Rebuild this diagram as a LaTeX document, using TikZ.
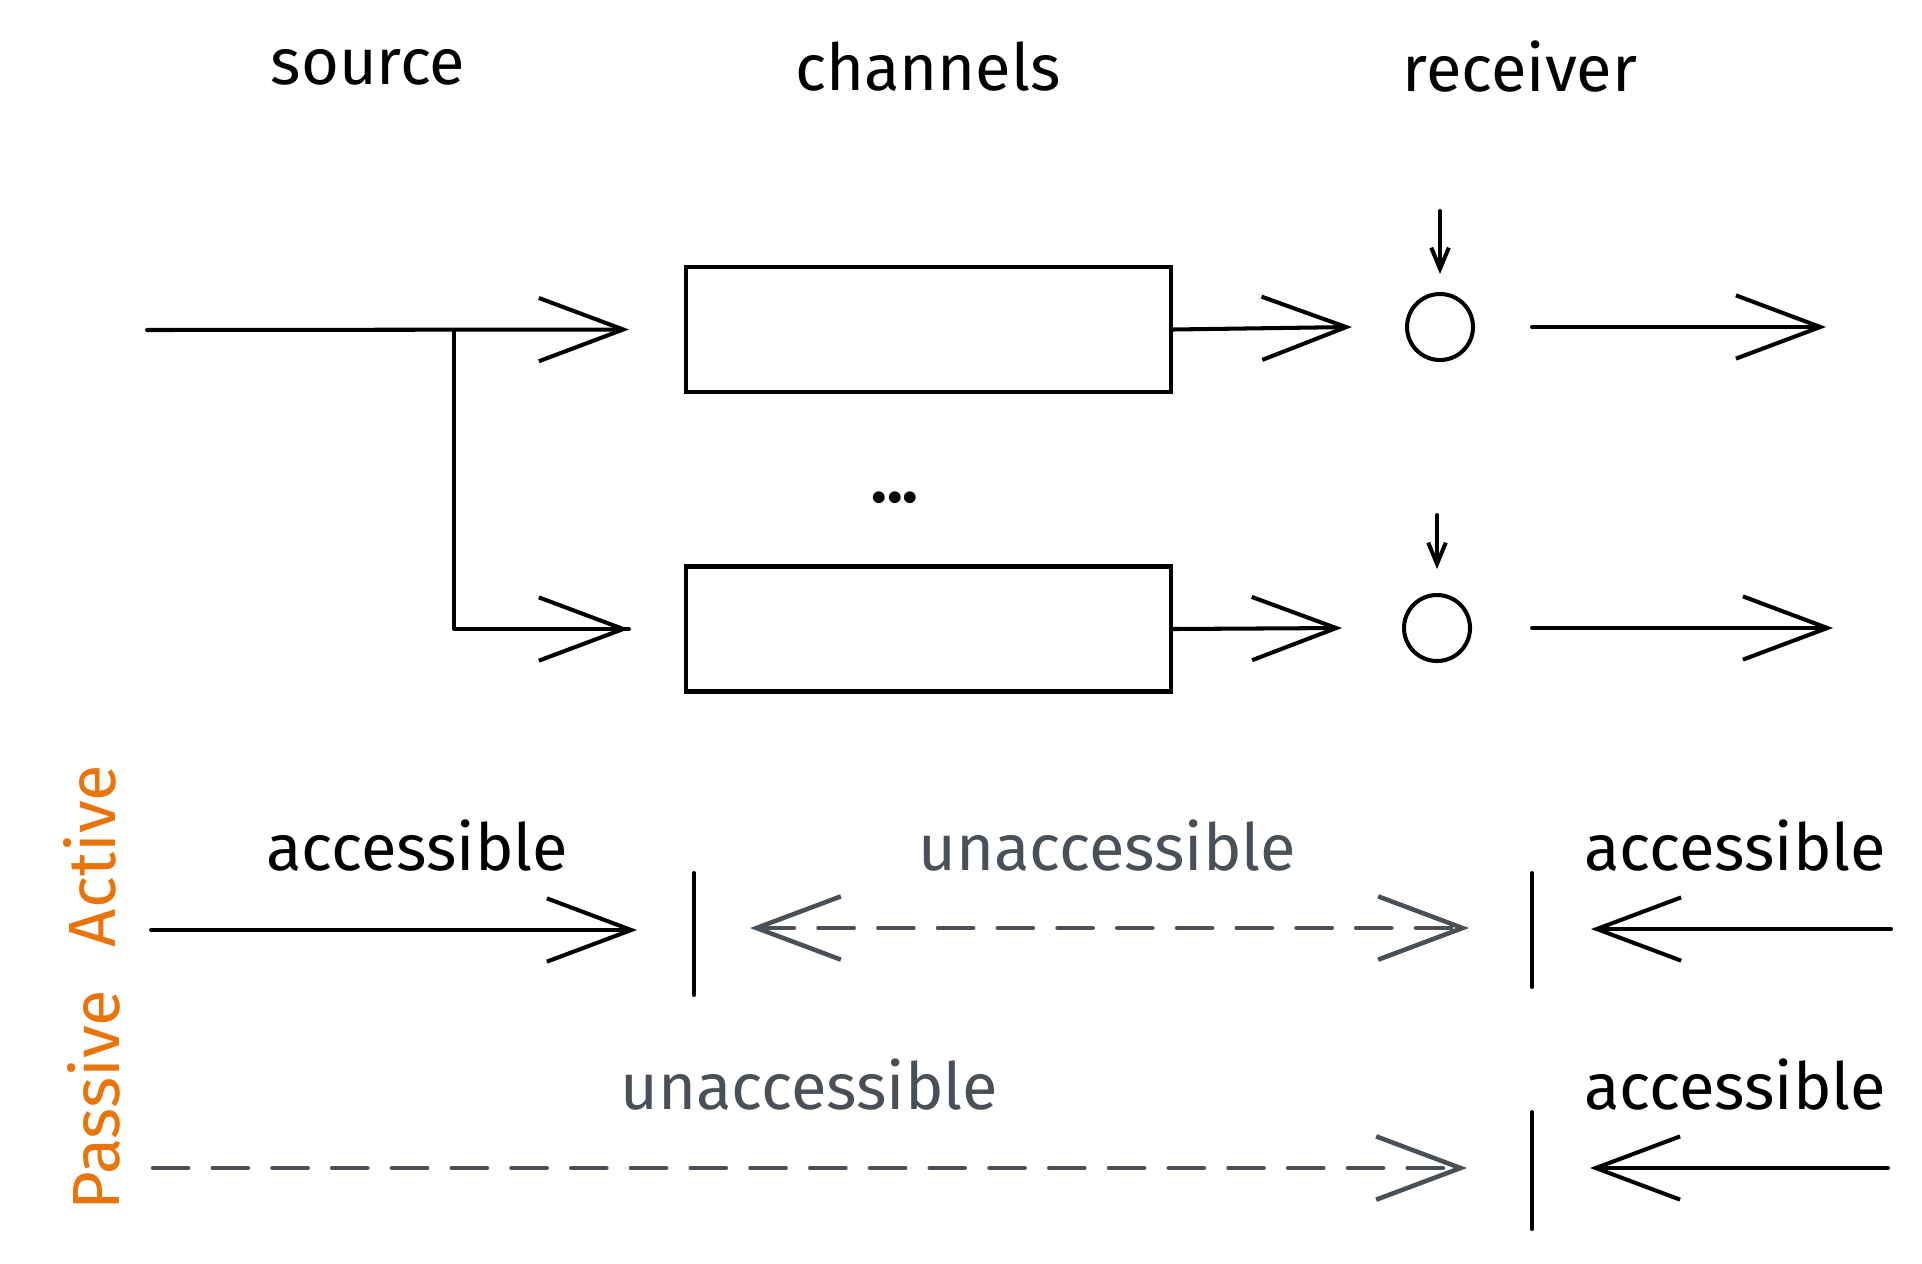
\documentclass[tikz,border=0pt]{standalone}
\usepackage{fontspec}
\setmainfont{Fira Sans}
\usepackage{xcolor}
\usepackage{tikz}
\usetikzlibrary{arrows.meta}
\usetikzlibrary{positioning}

\definecolor{sketchorange}{HTML}{E8740C}
\definecolor{sketchgray}{HTML}{495057}

\begin{document}
\begin{tikzpicture}[
  x=0.1mm, y=-0.1mm,
  every node/.style={font=\fontsize{18.5}{22}\selectfont},
  stroke/.style={line width=1.15pt, line cap=round, line join=round},
  chev/.style={stroke, -{Straight Barb[length=24pt,width=18pt,line width=1.15pt]}},
  pin/.style={stroke, -{Straight Barb[length=6pt,width=5pt,line width=1.15pt]}},
  chanbox/.style={draw, line width=1.15pt, minimum width=48.5mm, minimum height=12.5mm, inner sep=0pt},
  dot/.style={circle, draw, line width=1.15pt, minimum size=6.6mm, inner sep=0pt},
  faded/.style={stroke, sketchgray, line width=1.3pt, dash pattern=on 10pt off 7pt},
  gtext/.style={text=sketchgray},
  mode/.style={text=sketchorange, rotate=90, font=\fontsize{19}{23}\selectfont}
]
\useasboundingbox (0,0) rectangle (1922,1263);

% Headings
\node (srcT)  at (368, 67)  {source};
\node (chanT) at (928, 67)  {channels};
\node (recvT) at (1520, 67) {receiver};

% Channels and receiving points
\node[chanbox] (box1) at (928.5, 329.5) {};
\node[chanbox] (box2) at (928.5, 629)   {};
\node at (895, 498) {\textbf{...}};
\node[dot] (dot1) at (1440, 327) {};
\node[dot] (dot2) at (1437, 628) {};

\coordinate (in)    at (147, 330);
\coordinate (fork)  at (454, 330);
\coordinate (feed1) at (1440, 211);
\coordinate (feed2) at (1437, 515);
\coordinate (out1)  at (1826, 327);
\coordinate (out2)  at (1833, 628);

% Flow
\draw[chev] (in) -- ([xshift=-5.5mm]box1.west);
\draw[stroke] (fork) |- ([xshift=-5.5mm]box2.west) coordinate (fork2);
\draw[chev] ([xshift=-9mm]fork2) -- (fork2);
\draw[chev] (box1.east) -- ([xshift=-5.3mm]dot1.west);
\draw[chev] (box2.east) -- ([xshift=-6mm]dot2.west);
\draw[pin] (feed1) -- ([yshift=1.8mm]dot1.north);
\draw[pin] (feed2) -- ([yshift=2.4mm]dot2.north);
\draw[chev] ([xshift=5.7mm]dot1.east) -- (out1);
\draw[chev] ([xshift=6mm]dot2.east) -- (out2);

% Active / Passive
\node[mode] (act) at (90, 856)  {Active};
\node[mode] (pas) at (94, 1100) {Passive};

\coordinate (bar1t) at (694, 873);  \coordinate (bar1b) at (694, 995);
\coordinate (bar2t) at (1532, 873); \coordinate (bar2b) at (1532, 987);
\coordinate (bar3t) at (1532, 1112); \coordinate (bar3b) at (1532, 1229);
\draw[stroke] (bar1t) -- (bar1b);
\draw[stroke] (bar2t) -- (bar2b);
\draw[stroke] (bar3t) -- (bar3b);

\node (accA)  at (417, 846)  {accessible};
\node[gtext] (unA) at (1107, 846) {unaccessible};
\node (accA2) at (1735, 846) {accessible};
\node[gtext] (unP) at (809, 1085) {unaccessible};
\node (accP)  at (1735, 1085) {accessible};

\coordinate (aL) at (151, 930);  \coordinate (aR) at (637, 930);
\coordinate (uL) at (750, 928);  \coordinate (uR) at (1469, 928);
\coordinate (rA) at (1891, 929); \coordinate (lA) at (1591, 929);
\coordinate (pL) at (153, 1168); \coordinate (pR) at (1467, 1168);
\coordinate (rP) at (1888, 1168); \coordinate (lP) at (1590, 1168);

\draw[chev] (aL) -- (aR);
\draw[faded, {Straight Barb[length=24pt,width=18pt,line width=1.3pt]}-{Straight Barb[length=24pt,width=18pt,line width=1.3pt]}] (uL) -- (uR);
\draw[chev] (rA) -- (lA);
\draw[faded, -{Straight Barb[length=24pt,width=18pt,line width=1.3pt]}] (pL) -- (pR);
\draw[chev] (rP) -- (lP);
\end{tikzpicture}
\end{document}
